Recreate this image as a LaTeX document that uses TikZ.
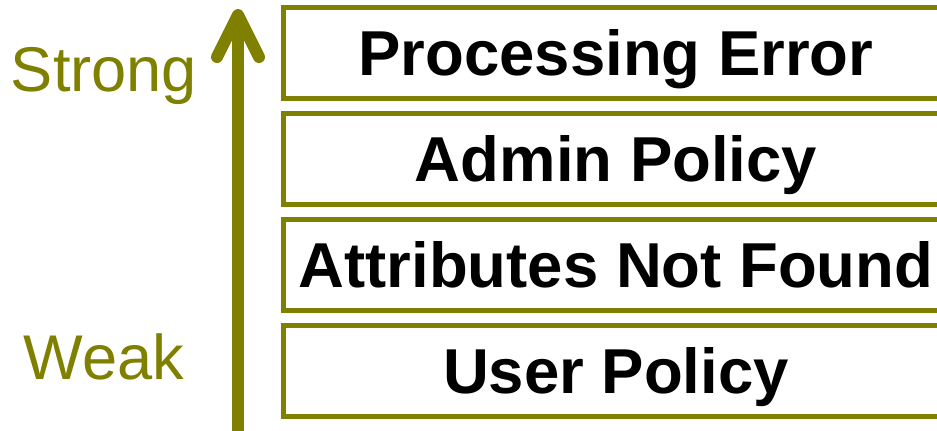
\documentclass[tikz,border=0pt]{standalone}
\usepackage{fontspec}
\setmainfont{Liberation Sans}
\usepackage{tikz}
\usetikzlibrary{positioning}
\definecolor{olivebar}{RGB}{128,128,0}

\begin{document}
\begin{tikzpicture}[
x=0.75pt, y=-0.75pt,
node distance=7.5pt,
level/.style={draw=olivebar, line width=3.75pt, minimum width=499.5pt, minimum height=68.25pt, inner sep=0pt, text height=34pt, text depth=0pt, font=\fontsize{47.6}{56}\selectfont\bfseries},
tag/.style={text=olivebar, anchor=base, inner sep=0pt, font=\fontsize{47.4}{56}\selectfont},
bar/.style={draw=olivebar, line width=9pt, line cap=round, line join=round}
]
\useasboundingbox (0,0) rectangle (937,430);
\clip (0,0) rectangle (937,430);
\node[level] (error) at (616,53) {Processing Error};
\node[level, below=of error] (admin) {Admin Policy};
\node[level, below=of admin] (attr) {Attributes Not Found};
\node[level, below=of attr] (user) {User Policy};
\node[tag] (strong) at (104,91) {Strong};
\node[tag] (weak) at (104,379) {Weak};
% strength arrow
\coordinate (foot) at (238,445);
\coordinate (apex) at (238,15);
\coordinate (wingl) at (217,57);
\coordinate (wingr) at (259,57);
\draw[bar, line cap=butt] (foot) -- (apex);
\draw[bar] (wingl) -- (apex) -- (wingr);
\end{tikzpicture}
\end{document}
